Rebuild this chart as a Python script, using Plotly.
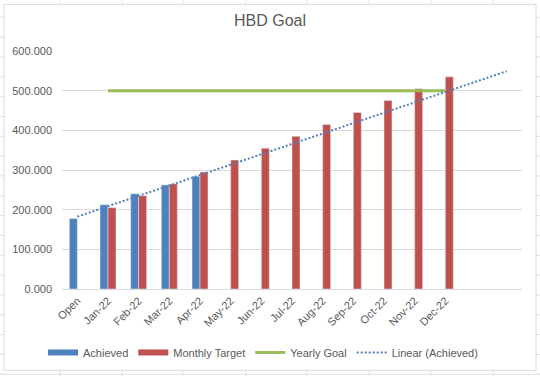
import plotly.graph_objects as go

# ---------------- data ----------------
categories = ["Open", "Jan-22", "Feb-22", "Mar-22", "Apr-22", "May-22", "Jun-22",
              "Jul-22", "Aug-22", "Sep-22", "Oct-22", "Nov-22", "Dec-22", "", ""]
achieved = [177.5, 212.5, 240, 262.5, 284]                 # Open .. Apr-22
monthly_target = [None, 205, 235, 265, 295, 325, 355, 385, 415, 445, 475, 505, 535]
yearly_goal = [None, 500, 500, 500, 500, 500, 500, 500, 500, 500, 500, 500, 500]
trend_pos = [0, 14]          # trendline spans first to last category slot
trend_vals = [182.5, 549]    # Linear (Achieved) end values

BLUE = "#4F81BD"
RED = "#C0504D"
GREEN = "#9BBB59"
TXT = "#595959"
GRID = "#D9D9D9"
FONT = "Liberation Sans"

# plot area in pixels (for placing paper-ref items)
L, R, T, B = 62, 522, 51, 291
W, H = 540, 379
def px(x):
    return (x - L) / (R - L)
def py(y):
    return (B - y) / (B - T)

idx = list(range(len(categories)))

fig = go.Figure()
fig.add_trace(go.Bar(x=idx[:len(achieved)], y=achieved, name="Achieved",
                     marker_color=BLUE, showlegend=False))
fig.add_trace(go.Bar(x=idx[:len(monthly_target)], y=monthly_target, name="Monthly Target",
                     marker_color=RED, showlegend=False))
fig.add_trace(go.Scatter(x=idx[:len(yearly_goal)], y=yearly_goal, mode="lines",
                         line=dict(color=GREEN, width=3), showlegend=False))
fig.add_trace(go.Scatter(x=trend_pos, y=trend_vals, mode="lines",
                         line=dict(color=BLUE, width=2, dash="2px,2px"), showlegend=False))

# legend entries (Excel-style wide swatches)
fig.add_trace(go.Scatter(x=[None], y=[None], mode="lines", name="Achieved",
                         line=dict(color=BLUE, width=6)))
fig.add_trace(go.Scatter(x=[None], y=[None], mode="lines", name="Monthly Target",
                         line=dict(color=RED, width=6)))
fig.add_trace(go.Scatter(x=[None], y=[None], mode="lines", name="Yearly Goal",
                         line=dict(color=GREEN, width=3)))
fig.add_trace(go.Scatter(x=[None], y=[None], mode="lines", name="Linear (Achieved)",
                         line=dict(color=BLUE, width=2, dash="2px,2px")))

shapes = []
# chart area border
shapes.append(dict(type="rect", xref="paper", yref="paper",
                   x0=px(4), x1=px(536), y0=py(373), y1=py(4),
                   line=dict(color=GRID, width=1), fillcolor="rgba(0,0,0,0)", layer="above"))
# spreadsheet gridlines visible around the chart
for xv in [60, 122, 183, 246, 307, 369, 431, 493]:
    shapes.append(dict(type="line", xref="paper", yref="paper",
                       x0=px(xv), x1=px(xv), y0=py(0), y1=py(4),
                       line=dict(color="#E1E1E1", width=1)))
    shapes.append(dict(type="line", xref="paper", yref="paper",
                       x0=px(xv), x1=px(xv), y0=py(373), y1=py(379),
                       line=dict(color="#E1E1E1", width=1)))
for yv in range(17, 379, 20):
    shapes.append(dict(type="line", xref="paper", yref="paper",
                       x0=px(0), x1=px(4), y0=py(yv), y1=py(yv),
                       line=dict(color="#E1E1E1", width=1)))
    shapes.append(dict(type="line", xref="paper", yref="paper",
                       x0=px(536), x1=px(540), y0=py(yv), y1=py(yv),
                       line=dict(color="#E1E1E1", width=1)))
shapes.append(dict(type="line", xref="paper", yref="paper",
                   x0=px(0), x1=px(540), y0=py(377), y1=py(377),
                   line=dict(color="#E1E1E1", width=1)))

fig.update_layout(
    width=W, height=H,
    margin=dict(l=L, r=W - R, t=T, b=H - B, pad=0),
    paper_bgcolor="white", plot_bgcolor="white",
    barmode="group", bargap=0.48, bargroupgap=0,
    title=dict(text="HBD Goal", x=px(270), xanchor="center", xref="paper",
               y=1 - 20 / H, yanchor="middle",
               font=dict(family=FONT, size=16, color=TXT)),
    font=dict(family=FONT, size=11, color=TXT),
    showlegend=True,
    legend=dict(orientation="h", x=px(263), xanchor="center", y=py(355), yanchor="middle",
                font=dict(family=FONT, size=11, color=TXT), bgcolor="rgba(0,0,0,0)",
                itemwidth=30, tracegroupgap=0),
    shapes=shapes,
)
fig.update_xaxes(range=[-0.5, len(categories) - 0.5], tickmode="array",
                 tickvals=idx, ticktext=categories, tickangle=-45,
                 showgrid=False, showline=True, linecolor=GRID, linewidth=1,
                 ticks="", zeroline=False,
                 tickfont=dict(family=FONT, size=11, color=TXT))
fig.update_yaxes(range=[0, 600], dtick=100, tickformat=".3f",
                 showgrid=True, gridcolor=GRID, gridwidth=1,
                 zeroline=False, showline=False, ticks="", ticklabelstandoff=9,
                 tickfont=dict(family=FONT, size=11, color=TXT))

fig.write_html("out.html", config={"displayModeBar": False},
               post_script="document.body.style.margin='0';document.body.style.overflow='hidden';")
